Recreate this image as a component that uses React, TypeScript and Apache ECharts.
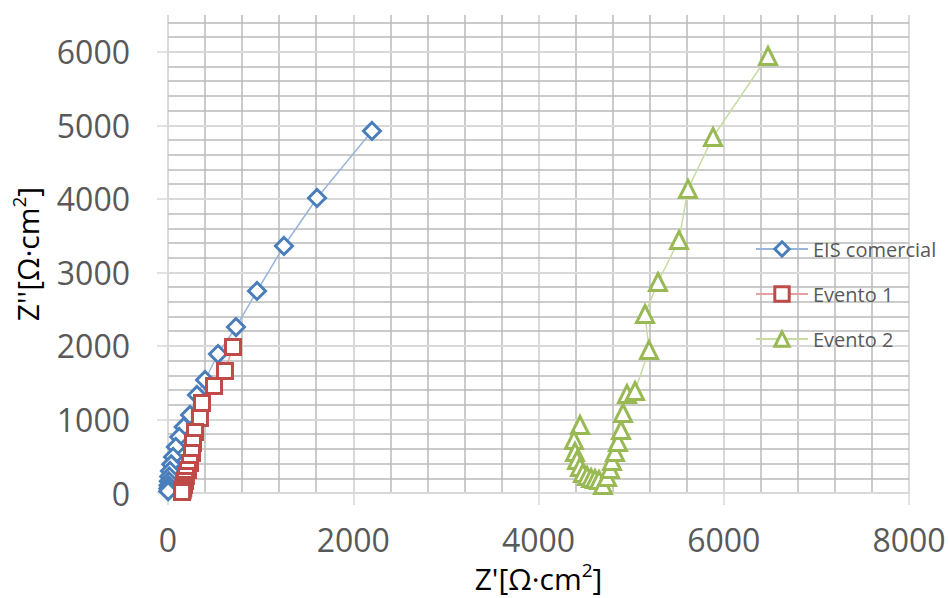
import React, { useEffect, useRef } from "react";
import * as echarts from "echarts";

const seriesNames = ["EIS comercial", "Evento 1", "Evento 2"];

const eisX = [2202, 1609, 1252, 961, 734, 540, 400, 313, 238, 170, 122, 85, 55, 35, 22, 14, 9, 6, 4, 2];
const eisY = [4923, 4012, 3359, 2747, 2257, 1890, 1537, 1333, 1061, 898, 762, 626, 490, 390, 300, 225, 160, 105, 60, 25];

const ev1X = [702, 615, 497, 367, 345, 292, 270, 259, 238, 216, 194, 184, 173, 165, 158, 152];
const ev1Y = [1985, 1659, 1455, 1224, 1020, 829, 680, 544, 408, 313, 231, 163, 109, 68, 38, 14];

const ev2X = [4448, 4383, 4394, 4416, 4448, 4480, 4524, 4567, 4610, 4653, 4696, 4740, 4772, 4793, 4826, 4858, 4891, 4912, 4955, 5042, 5193, 5150, 5290, 5517, 5614, 5884, 6478];
const ev2Y = [925, 720, 558, 449, 354, 272, 231, 204, 190, 177, 109, 218, 326, 435, 558, 694, 857, 1088, 1346, 1387, 1945, 2434, 2869, 3440, 4134, 4841, 5943];

const xMin = 0, xMax = 8000, xStep = 2000;
const yMin = 0, yMax = 6500, yStep = 1000, yMinorStep = 200;

const FONT = "'Open Sans', 'Noto Sans', sans-serif";
const MAJOR = "#d9d9d9";
const MINOR = "#bababa";

function zip(xs: number[], ys: number[]) {
  return xs.map((x, i) => [x, ys[i]]);
}

export default function App() {
  const ref = useRef<HTMLDivElement>(null);
  useEffect(() => {
    if (!ref.current) return;
    const chart = echarts.init(ref.current, null, { renderer: "svg" });
    const mk = (name: string, data: number[][], color: string, lineColor: string, symbol: string, size: number) => ({
      name,
      type: "line",
      data,
      symbol,
      symbolSize: size,
      showAllSymbol: true,
      clip: false,
      lineStyle: { color: lineColor, width: 1.5 },
      itemStyle: { color: "#ffffff", borderColor: color, borderWidth: 3 },
      emphasis: { disabled: true },
    });
    const minorColors = ["rgba(0,0,0,0)", MINOR, MINOR, MINOR, MINOR];
    const plain = (v: number) => String(v);
    chart.setOption({
      animation: false,
      backgroundColor: "#ffffff",
      grid: { left: 168, right: 40, top: 15, bottom: 105, containLabel: false, outerBoundsMode: "none" },
      legend: {
        orient: "vertical",
        left: 750,
        top: 234,
        itemWidth: 52,
        itemHeight: 18,
        itemGap: 25,
        itemStyle: { borderWidth: 3 },
        textStyle: { fontSize: 20, color: "#595959", fontFamily: FONT },
        data: seriesNames,
      },
      xAxis: {
        type: "value",
        min: xMin,
        max: xMax,
        interval: xStep,
        name: "Z'[Ω·cm{sup|2}]",
        nameLocation: "middle",
        nameGap: 67,
        nameTextStyle: {
          fontSize: 30, color: "#000000", fontFamily: FONT, lineHeight: 36,
          rich: { sup: { fontSize: 19, verticalAlign: "top", color: "#000000", fontFamily: FONT, lineHeight: 36 } },
        },
        axisLine: { show: false },
        axisTick: { show: true, inside: false, length: 12, lineStyle: { color: MAJOR, width: 1.5 } },
        axisLabel: { fontSize: 32, color: "#595959", fontFamily: FONT, margin: 30, formatter: plain },
        splitLine: { show: true, lineStyle: { color: MAJOR, width: 2 } },
        minorTick: { show: false, splitNumber: 5 },
        minorSplitLine: { show: true, lineStyle: { color: MINOR, width: 1.5 } },
      },
      yAxis: [
        {
          type: "value",
          min: yMin,
          max: yMax,
          interval: yStep,
          name: "Z''[Ω·cm{sup|2}]",
          nameLocation: "middle",
          nameRotate: 90,
          nameGap: 110,
          nameTextStyle: {
            fontSize: 30, color: "#000000", fontFamily: FONT, lineHeight: 36,
            rich: { sup: { fontSize: 19, verticalAlign: "top", color: "#000000", fontFamily: FONT, lineHeight: 36 } },
          },
          axisLine: { show: false },
          axisTick: { show: true, inside: false, length: 11, lineStyle: { color: MAJOR, width: 1.5 } },
          axisLabel: { fontSize: 32, color: "#595959", fontFamily: FONT, margin: 38, showMaxLabel: false, formatter: plain },
          splitLine: { show: true, showMaxLine: false, lineStyle: { color: MAJOR, width: 2 } },
          z: 3,
        },
        {
          type: "value",
          min: yMin,
          max: yMax,
          interval: yMinorStep,
          position: "left",
          axisLine: { show: false },
          axisTick: { show: false },
          axisLabel: { show: false },
          splitLine: { show: true, showMaxLine: false, lineStyle: { color: minorColors, width: 1.5 } },
          z: 1,
        },
      ],
      series: [
        mk(seriesNames[0], zip(eisX, eisY), "#4a7ebb", "#9ab5d9", "diamond", 17),
        mk(seriesNames[1], zip(ev1X, ev1Y), "#be4b48", "#e2a09e", "rect", 15),
        mk(seriesNames[2], zip(ev2X, ev2Y), "#98b954", "#c8dba3", "triangle", 17),
      ],
    });
    return () => chart.dispose();
  }, []);
  return <div ref={ref} style={{ position: "fixed", left: 0, top: 0, width: 949, height: 598 }} />;
}
